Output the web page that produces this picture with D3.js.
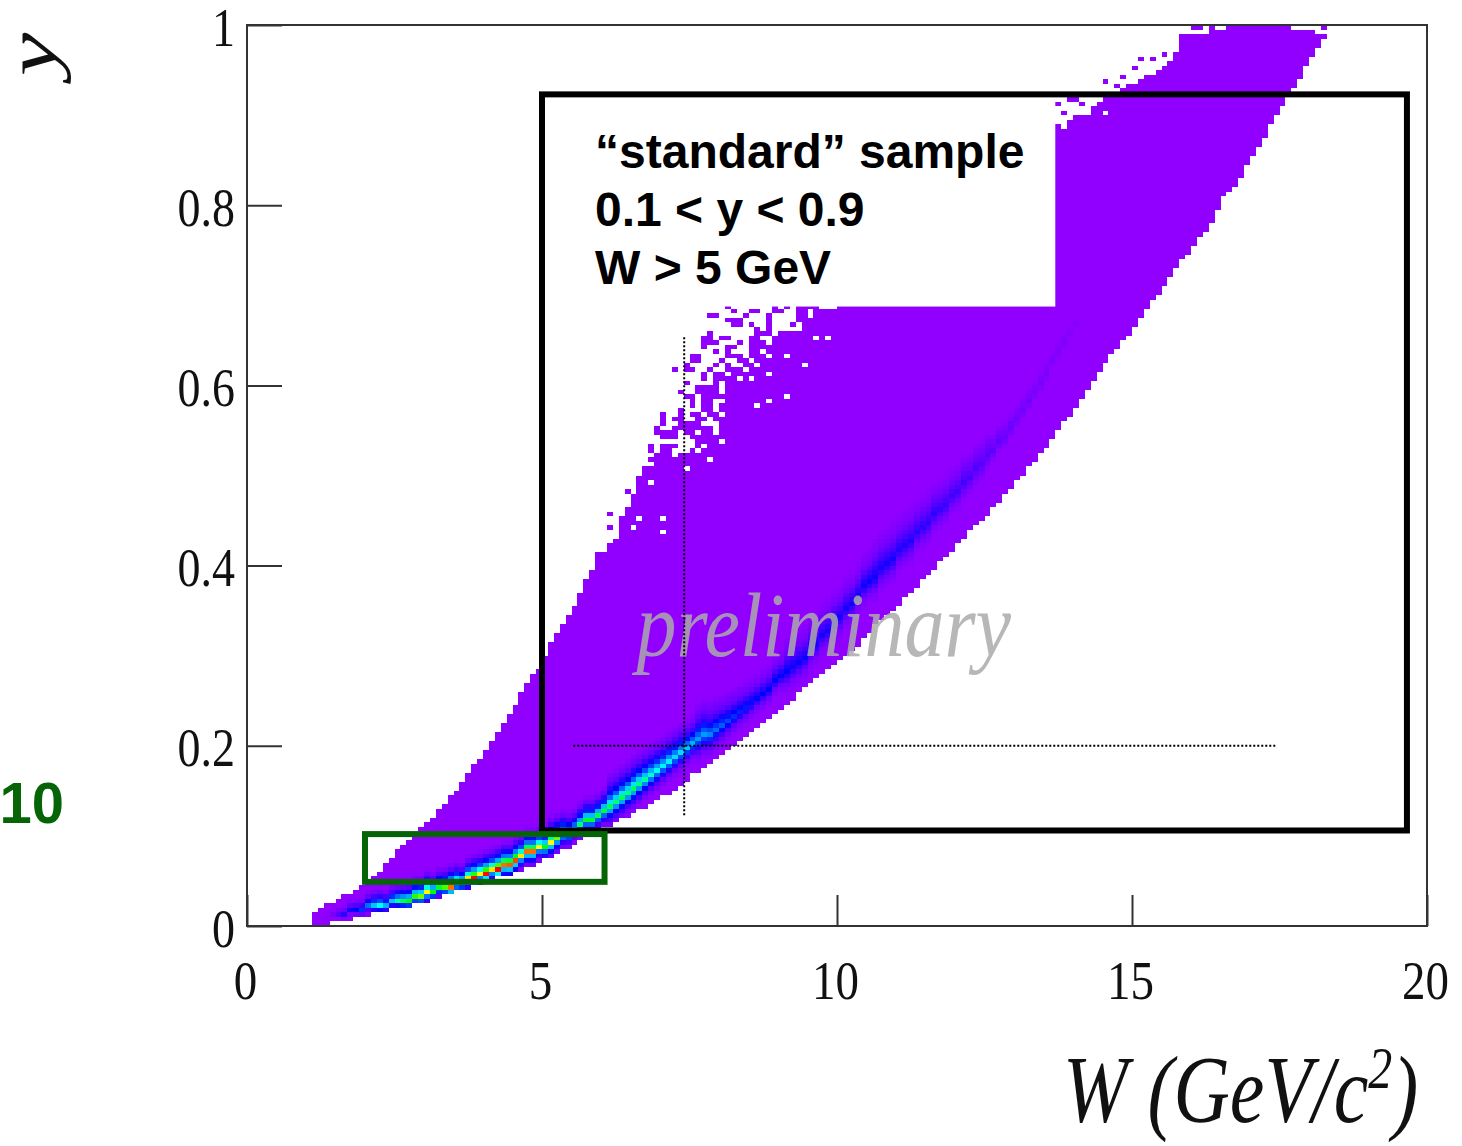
<!DOCTYPE html>
<html>
<head>
<meta charset="utf-8">
<script src="https://cdn.jsdelivr.net/npm/d3@7"></script>
<style>
  body { margin: 0; background: #fff; }
  svg { display: block; }
</style>
</head>
<body>
<div id="chart"></div>
<script>
// histogram bins: 200 x 200, W 0-20, y 0-1. All arrays below start at column 11
const firstCol = 11
const binW = 0.1
const binY = 0.005

// lowest filled row in each column
const lowerEdge = [
  0,0,0,1,1,1,1,2,2,2,
  3,3,3,4,4,4,4,5,5,5,
  6,6,7,7,8,8,8,9,9,10,
  10,11,11,11,12,12,13,13,14,15,
  15,16,17,17,18,19,20,20,21,22,
  22,23,24,24,25,26,26,27,28,29,
  29,30,31,32,34,34,35,36,37,38,
  39,40,41,42,43,44,45,46,47,48,
  49,50,52,53,54,55,56,57,58,59,
  60,61,62,64,65,67,68,69,70,71,
  73,74,75,77,78,79,81,82,83,85,
  86,88,89,90,91,93,94,96,97,99,
  100,102,103,105,106,108,110,112,113,115,
  117,119,121,123,125,127,128,130,131,133,
  135,137,139,140,142,144,146,148,149,151,
  153,154,156,159,162,163,164,166,169,171,
  173,175,178,180,182,184,186,188,191,193,195,197
]

// highest solid row in each column
const upperEdge = [
  2,3,4,4,5,6,6,7,8,9,
  10,11,13,14,16,17,18,19,21,22,
  23,25,26,28,29,31,33,35,36,38,
  40,42,44,46,48,51,53,55,56,59,
  62,64,66,68,70,73,76,78,81,82,
  84,85,90,92,95,98,101,101,102,102,
  103,103,104,104,105,108,109,110,110,112,
  115,117,118,119,120,120,121,121,122,123,
  124,126,127,129,131,132,134,135,136,137,
  139,140,141,142,143,144,145,146,147,148,
  150,151,152,153,154,155,156,157,158,160,
  161,162,163,164,165,166,167,168,170,171,
  172,173,174,175,175,175,176,177,178,179,
  179,180,181,182,183,183,184,185,186,186,
  187,188,188,189,190,191,193,197,197,197,
  197,197,198,198,198,199,199,199,199,199,
  199,199,199,199,199,199,198,198,198,198,197,197
]

// row of the dense ridge, columns 11-140
const ridgeRow = [
  0,1,1,2,2,2,3,3,3,4,
  4,4,4,5,5,5,5,6,6,7,
  7,8,8,8,9,9,10,10,11,11,
  12,12,13,13,14,15,16,16,17,17,
  18,19,20,20,21,22,23,23,24,25,
  26,27,28,29,30,31,32,33,34,35,
  36,37,38,39,40,41,42,42,43,44,
  45,46,47,48,49,50,51,52,54,55,
  56,57,58,59,61,62,64,65,67,68,
  70,71,73,75,76,77,79,80,81,83,
  84,85,87,88,89,91,92,93,95,96,
  98,99,101,102,104,105,107,108,110,112,
  114,116,118,120,122,125,127,129,131,133
]

// content of the ridge cell (z scale), columns 11-140
const ridgePeak = [
  5,6,8,10,14,18,20,22,26,32,
  40,45,38,40,50,54,58,60,64,72,
  58,56,62,84,66,58,74,94,72,94,
  74,96,84,86,88,74,84,84,72,58,
  72,64,56,50,44,52,56,56,54,56,
  54,52,54,52,54,52,50,48,46,44,
  44,42,42,40,38,36,36,34,32,30,
  28,26,25,24,23,22,22,22,22,22,
  22,21,21,21,21,20,20,20,20,20,
  20,20,20,21,21,21,20,20,20,19,
  19,19,18,18,18,18,17,17,16,16,
  16,15,15,14,14,13,13,12,12,11,
  11,11,10,10,10,9,9,9,8,8
]

// how the ridge falls off, rows away from it (fraction of peak)
const ridgeProfile = [1, 0.46, 0.24, 0.12, 0.06, 0.02, 0]
const widthBreaks = [50, 61, 76, 91, 106, 126]
const widthValues = [1, 1.2, 1.7, 2.2, 3, 3.5, 2.8]

// isolated filled cells above the solid edge, as rows and the columns filled in them
const speckleRows = [137,136,135,134,133,132,131,130,129,128,127,126,125,124,123,122,121,120,119,118,117,116,115,114,113,112,111,110,109,108,106,105,104,103]
const speckleCols = [
  [81,89,91,93,94,95,96],
  [82,85,86,89,90,93,94,96,97,98],
  [78,79,84,88,93,94,96,97],
  [81,82,83,88,93,94,95,96],
  [82,83,85,88,92,94,95,96],
  [86,88,94,95],
  [78,86,87,88,90,91,92,93,94],
  [77,78,80,81,85,86,89,90,91,92,93,94],
  [77,78,79,83,85,86,87,89,90,91,92,93],
  [77,81,82,85,86,87,88,89,90,91,92,93],
  [79,81,85,86,88,89,90,91,92],
  [75,76,81,82,83,85,86,87,89,90],
  [75,76,80,83,84,86,87,88,89,90,91],
  [74,79,81,84,85,87,88,89,90],
  [72,74,75,78,81,82,83,85,86,87,88,89,90],
  [77,79,80,82,83,84,85,86,87,89],
  [77,79,80,81,82,84,86,87],
  [74,79,81,82,83,84],
  [76,77,78,79,81,82,83],
  [73,76,77,78,79,81,82],
  [74,75,77,78,79,80,81],
  [75,77,78,81],
  [75,77,78,80],
  [73,77,78,80],
  [70,73,75,76,78,79],
  [70,72,73,76,77,79],
  [70,73,74,75,76],
  [69,72,73,74,75,76,77],
  [69,70,71,72,74,75],
  [70,71,72,75],
  [68,70,71,72],
  [68,70,71],
  [69,70,71],
  [68,69,70,71]
]
// more single cells [col, row], lower left edge and above the label patch
const speckles = [
  [66,99],[66,97],[66,95],[64,96],[61,91],[64,90],[61,88],[59,82],[137,182],[137,177],
  [140,183],[138,180],[143,184],[145,187],[150,190],[151,192],[153,192],[161,199],[160,199],[163,199],
  [182,199],[147,186],[148,188],[155,193],[139,183],[141,182]
]

// empty cells inside the solid region [col, row]
const holes = [
  [70,90],[70,87],[66,90],[65,88],[68,98],[78,103],[74,101],[80,107],[77,106],[76,105],
  [79,109],[79,110],[86,115],[88,116],[91,117],[94,124],[91,126],[88,126],[86,124],[88,122],
  [83,121],[85,121],[96,130],[98,130],[93,133],[145,180],[142,180],[139,179],[138,177],[153,189]
]

const xTicks = [0, 5, 10, 15, 20]
const xTickLabels = ["0", "5", "10", "15", "20"]
const yTicks = [0, 0.2, 0.4, 0.6, 0.8, 1]
const yTickLabels = ["0", "0.2", "0.4", "0.6", "0.8", "1"]

const sampleCuts = { x: [5, 19.66], y: [0.106, 0.923] }
const lowYCuts = { x: [2, 6.06], y: [0.049, 0.102] }
const refW = 7.41, refY = 0.2
const refWRange = [5.53, 17.44], refYRange = [0.123, 0.654]

const sampleLines = ["\u201Cstandard\u201D sample", "0.1 < y < 0.9", "W > 5 GeV"]

const zStops = [0, 6, 12, 22, 35, 45, 58, 72, 82, 95]
const zColors = ["#9100ff", "#9100ff", "#6a00ff", "#0000ff", "#0090ff", "#00ffff", "#00ff00", "#ffff00", "#ff8000", "#ff0000"]

const width = 1462, height = 1146
const margin = { top: 25, right: 35, bottom: 220, left: 247 }

const x = d3.scaleLinear().domain([0, 20]).range([margin.left, width - margin.right])
const y = d3.scaleLinear().domain([0, 1]).range([height - margin.bottom, margin.top])
const color = d3.scaleLinear().domain(zStops).range(zColors).clamp(true)
const widthScale = d3.scaleThreshold().domain(widthBreaks).range(widthValues)
const falloff = d3.scaleLinear().domain(d3.range(ridgeProfile.length)).range(ridgeProfile).clamp(true)

const svg = d3.select("#chart").append("svg")
  .attr("width", width)
  .attr("height", height)

// build the cell list
const holeSet = new Set(holes.map(d => d.join()))
const cells = []
lowerEdge.forEach((lo, i) => {
  const col = firstCol + i
  for (let row = lo; row <= upperEdge[i]; row++) {
    if (holeSet.has(col + "," + row)) continue
    let z = 3
    if (i < ridgePeak.length) {
      const w = widthScale(col)
      const dist = row - ridgeRow[i]
      const d = dist > 0 ? dist / (w * 1.5) : -dist / w
      z = Math.max(z, ridgePeak[i] * falloff(d))
    }
    cells.push({ col, row, z })
  }
})
speckleRows.forEach((row, i) => speckleCols[i].forEach(col => cells.push({ col, row, z: 3 })))
speckles.forEach(d => cells.push({ col: d[0], row: d[1], z: 3 }))

svg.append("g")
  .attr("shape-rendering", "crispEdges")
  .selectAll("rect")
  .data(cells)
  .join("rect")
  .attr("x", d => x(d.col * binW))
  .attr("y", d => y((d.row + 1) * binY))
  .attr("width", x(binW) - x(0))
  .attr("height", y(0) - y(binY))
  .attr("fill", d => color(d.z))

// white label patch, sits over the histogram
svg.append("rect")
  .attr("x", x(5))
  .attr("y", y(sampleCuts.y[1]))
  .attr("width", x(13.7) - x(5))
  .attr("height", y(0.6875) - y(sampleCuts.y[1]))
  .attr("fill", "#fff")

const serif = "'Liberation Serif', 'Times New Roman', serif"
const sans = "'Liberation Sans', Arial, sans-serif"

// axes, labels are stretched like the scanned original
const xAxis = svg.append("g")
  .attr("transform", `translate(0,${y(0)})`)
  .call(d3.axisBottom(x).tickValues(xTicks).tickFormat((d, i) => xTickLabels[i]).tickSize(-31))
xAxis.select(".domain").remove()
xAxis.selectAll("line").attr("stroke", "#333").attr("stroke-width", 2)
xAxis.selectAll("text")
  .attr("y", null).attr("dy", null)
  .attr("transform", "translate(-2,73) scale(1,1.18)")
  .attr("font-family", serif)
  .attr("font-size", 47)
  .attr("fill", "#111")

const yAxis = svg.append("g")
  .attr("transform", `translate(${x(0)},0)`)
  .call(d3.axisLeft(y).tickValues(yTicks).tickFormat((d, i) => yTickLabels[i]).tickSize(-35))
yAxis.select(".domain").remove()
yAxis.selectAll("line").attr("stroke", "#333").attr("stroke-width", 2)
yAxis.selectAll("text")
  .attr("x", null).attr("dy", null)
  .attr("text-anchor", "end")
  .attr("transform", "translate(-12,20) scale(1,1.2)")
  .attr("font-family", serif)
  .attr("font-size", 46)
  .attr("fill", "#111")

// plot frame
svg.append("rect")
  .attr("x", x(0))
  .attr("y", y(1))
  .attr("width", x(20) - x(0))
  .attr("height", y(0) - y(1))
  .attr("fill", "none")
  .attr("stroke", "#333")
  .attr("stroke-width", 2)

// watermark
svg.append("text")
  .attr("transform", `translate(${x(6.6)},${y(0.3)}) scale(1,1.15)`)
  .attr("font-family", serif)
  .attr("font-style", "italic")
  .attr("font-size", 80)
  .attr("fill", "#aaa")
  .attr("fill-opacity", 0.85)
  .text("preliminary")

// dotted reference lines
svg.append("line")
  .attr("x1", x(refWRange[0])).attr("x2", x(refWRange[1]))
  .attr("y1", y(refY)).attr("y2", y(refY))
  .attr("stroke", "#000").attr("stroke-width", 2).attr("stroke-dasharray", "2,2")
svg.append("line")
  .attr("x1", x(refW)).attr("x2", x(refW))
  .attr("y1", y(refYRange[0])).attr("y2", y(refYRange[1]))
  .attr("stroke", "#000").attr("stroke-width", 2).attr("stroke-dasharray", "2,2")

// cut boxes
svg.append("rect")
  .attr("x", x(sampleCuts.x[0]))
  .attr("y", y(sampleCuts.y[1]))
  .attr("width", x(sampleCuts.x[1]) - x(sampleCuts.x[0]))
  .attr("height", y(sampleCuts.y[0]) - y(sampleCuts.y[1]))
  .attr("fill", "none").attr("stroke", "#000").attr("stroke-width", 6)
svg.append("rect")
  .attr("x", x(lowYCuts.x[0]))
  .attr("y", y(lowYCuts.y[1]))
  .attr("width", x(lowYCuts.x[1]) - x(lowYCuts.x[0]))
  .attr("height", y(lowYCuts.y[0]) - y(lowYCuts.y[1]))
  .attr("fill", "none").attr("stroke", "#056405").attr("stroke-width", 6)

// label inside the black box
svg.append("g").selectAll("text")
  .data(sampleLines)
  .join("text")
  .attr("x", 595)
  .attr("y", (d, i) => 168 + i * 58)
  .attr("font-family", sans)
  .attr("font-weight", "bold")
  .attr("font-size", 48)
  .attr("fill", "#000")
  .text(d => d)

svg.append("text")
  .attr("x", 64)
  .attr("y", 823)
  .attr("text-anchor", "end")
  .attr("font-family", sans)
  .attr("font-weight", "bold")
  .attr("font-size", 58)
  .attr("fill", "#056405")
  .text("10")

// axis titles
svg.append("text")
  .attr("transform", "translate(56,76) scale(1,1.35) rotate(-90)")
  .attr("font-family", serif)
  .attr("font-style", "italic")
  .attr("font-size", 72)
  .attr("fill", "#111")
  .text("y")

const xTitle = svg.append("text")
  .attr("transform", "translate(1063,1122) scale(1,1.22)")
  .attr("font-family", serif)
  .attr("font-style", "italic")
  .attr("font-size", 78)
  .attr("fill", "#111")
xTitle.append("tspan").text("W (GeV/c")
xTitle.append("tspan").attr("font-size", 48).attr("dy", -28).text("2")
xTitle.append("tspan").attr("dy", 28).text(")")
</script>
</body>
</html>
